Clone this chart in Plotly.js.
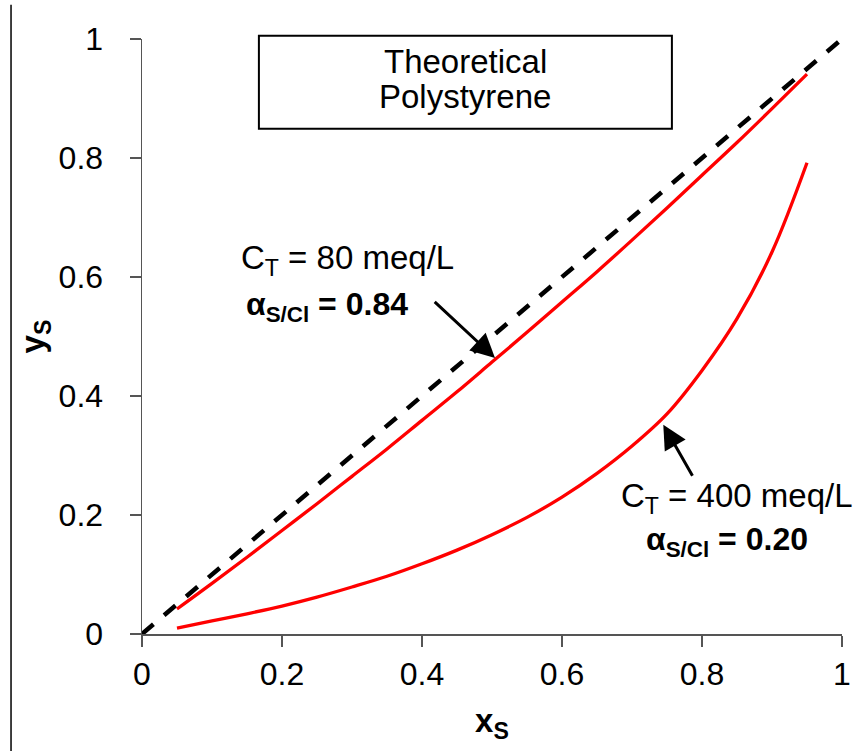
<!DOCTYPE html>
<html>
<head>
<meta charset="utf-8">
<script src="https://cdn.plot.ly/plotly-3.0.1.min.js"></script>
<style>html,body{margin:0;padding:0;background:#fff;}#chart{width:866px;height:751px;}</style>
</head>
<body>
<div id="chart"></div>
<script>
// Data
var xS = [0.05, 0.10, 0.15, 0.20, 0.25, 0.30, 0.35, 0.40, 0.45, 0.50, 0.55, 0.60, 0.65, 0.70, 0.75, 0.80, 0.85, 0.90, 0.95];
var yS_80 = [0.042, 0.085, 0.129, 0.174, 0.219, 0.265, 0.311, 0.359, 0.407, 0.457, 0.507, 0.558, 0.609, 0.662, 0.716, 0.771, 0.826, 0.883, 0.941];
var yS_400 = [0.010, 0.022, 0.034, 0.047, 0.062, 0.079, 0.097, 0.118, 0.141, 0.167, 0.196, 0.230, 0.270, 0.316, 0.370, 0.443, 0.530, 0.642, 0.792];
var diagX = [0, 1];
var diagY = [0, 1];
var tickVals = [0, 0.2, 0.4, 0.6, 0.8, 1];
var tickText = ["0", "0.2", "0.4", "0.6", "0.8", "1"];

var FONT = "Liberation Sans, Arial, Helvetica, sans-serif";

var traces = [
  {x: diagX, y: diagY, mode: "lines", line: {color: "#000", width: 4.5, dash: "15px,14px"}, hoverinfo: "skip", cliponaxis: false},
  {x: xS, y: yS_80, mode: "lines", line: {color: "#ff0000", width: 3.3, shape: "spline"}, name: "80 meq/L"},
  {x: xS, y: yS_400, mode: "lines", line: {color: "#ff0000", width: 3.3, shape: "spline"}, name: "400 meq/L"}
];

var axisCommon = {
  range: [0, 1],
  showgrid: false,
  zeroline: false,
  showline: true,
  linecolor: "#555",
  linewidth: 1.5,
  ticks: "outside",
  ticklen: 11,
  tickwidth: 1.5,
  tickcolor: "#555",
  tickvals: tickVals,
  ticktext: tickText,
  tickfont: {family: FONT, size: 32, color: "#000"},
  mirror: false,
  fixedrange: true
};

var layout = {
  width: 866,
  height: 751,
  margin: {l: 142, r: 24, t: 39, b: 117},
  paper_bgcolor: "#fff",
  plot_bgcolor: "#fff",
  showlegend: false,
  xaxis: Object.assign({}, axisCommon, {
    ticklabelstandoff: 0,
    title: {text: "<b>x<sub>S</sub></b>", font: {family: FONT, size: 33, color: "#000"}, standoff: 18}
  }),
  yaxis: Object.assign({}, axisCommon, {
    ticklabelstandoff: 20,
    title: {text: "<b>y<sub>S</sub></b>", font: {family: FONT, size: 33, color: "#000"}, standoff: 4}
  }),
  shapes: [
    {type: "rect", xref: "paper", yref: "paper", x0: 0.167, x1: 0.757, y0: 0.849, y1: 1.0055,
     line: {color: "#000", width: 2}, fillcolor: "rgba(0,0,0,0)"},
    {type: "line", xref: "paper", yref: "paper", x0: -0.1871, x1: -0.1871, y0: 1.0576, y1: -0.2,
     line: {color: "#000", width: 1.5}}
  ],
  annotations: [
    {xref: "paper", yref: "paper", x: 0.462, y: 0.963, text: "Theoretical", showarrow: false,
     font: {family: FONT, size: 33, color: "#000"}, xanchor: "center", yanchor: "middle"},
    {xref: "paper", yref: "paper", x: 0.462, y: 0.903, text: "Polystyrene", showarrow: false,
     font: {family: FONT, size: 33, color: "#000"}, xanchor: "center", yanchor: "middle"},
    {xref: "x", yref: "y", x: 0.2933, y: 0.628, text: "C<sub>T</sub> = 80 meq/L", showarrow: false,
     font: {family: FONT, size: 33, color: "#000"}, xanchor: "center", yanchor: "middle"},
    {xref: "x", yref: "y", x: 0.2647, y: 0.55, text: "<b>α<sub>S/Cl</sub> = 0.84</b>", showarrow: false,
     font: {family: FONT, size: 32, color: "#000"}, xanchor: "center", yanchor: "middle"},
    {xref: "x", yref: "y", x: 0.8496, y: 0.228, text: "C<sub>T</sub> = 400 meq/L", showarrow: false,
     font: {family: FONT, size: 33, color: "#000"}, xanchor: "center", yanchor: "middle"},
    {xref: "x", yref: "y", x: 0.8364, y: 0.155, text: "<b>α<sub>S/Cl</sub> = 0.20</b>", showarrow: false,
     font: {family: FONT, size: 32, color: "#000"}, xanchor: "center", yanchor: "middle"},
    {xref: "x", yref: "y", x: 0.5043, y: 0.4639, axref: "x", ayref: "y", ax: 0.416, ay: 0.5607,
     text: "", showarrow: true, arrowhead: 2, arrowsize: 1.6, arrowwidth: 3, arrowcolor: "#000"},
    {xref: "x", yref: "y", x: 0.7447, y: 0.3518, axref: "x", ayref: "y", ax: 0.7876, ay: 0.2634,
     text: "", showarrow: true, arrowhead: 2, arrowsize: 1.6, arrowwidth: 3, arrowcolor: "#000"}
  ]
};

Plotly.newPlot("chart", traces, layout, {displayModeBar: false, staticPlot: true});
</script>
</body>
</html>
